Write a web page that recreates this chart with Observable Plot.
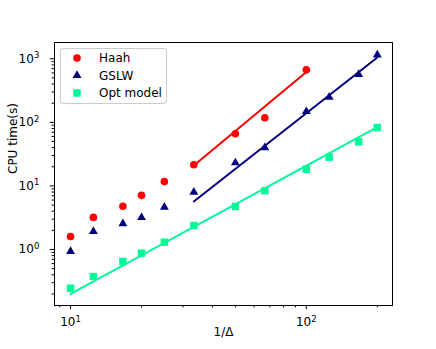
<!DOCTYPE html>
<html><head><meta charset="utf-8">
<script src="https://cdn.jsdelivr.net/npm/d3@7"></script>
<script src="https://cdn.jsdelivr.net/npm/@observablehq/plot@0.6"></script>
<style>body{margin:0;background:#fff}</style>
</head><body><div id="chart"></div>
<script>
// 1/Δ values
const invDelta = [10, 12.5, 16.67, 20, 25, 33.33, 50, 66.67, 100, 125, 166.67, 200];
// CPU times (s)
const haah = [1.6, 3.2, 4.8, 7.1, 11.7, 21.5, 66, 118, 669];
const gslw = [0.93, 1.92, 2.54, 3.18, 4.63, 7.97, 23.1, 40, 148, 249, 566, 1153];
const opt = [0.246, 0.376, 0.647, 0.875, 1.30, 2.38, 4.75, 8.4, 18.3, 28.3, 49.4, 83];
// fitted lines (end points)
const haahFitX = [33.33, 100], haahFitY = [21, 620];
const gslwFitX = [33.33, 200], gslwFitY = [5.7, 1050];
const optFitX = [10, 200], optFitY = [0.20, 84];
// ticks
const xMajor = [10, 100];
const xMinor = [9, 20, 30, 40, 50, 60, 70, 80, 90, 200];
const yMajor = [1, 10, 100, 1000];
const yMinor = [];
[0.1, 1, 10, 100, 1000].forEach(d => [2,3,4,5,6,7,8,9].forEach(k => yMinor.push(d * k)));
const seriesNames = ["Haah", "GSLW", "Opt model"];
const colors = ["#ff0000", "#000080", "#00fa9a"];

const expo = d => String(Math.round(Math.log10(d)));

const pts = (ys, name) => ys.map((v, i) => ({x: invDelta[i], y: v, s: name}));
const fit = (xs, ys, name) => xs.map((v, i) => ({x: v, y: ys[i], s: name}));

const chart = Plot.plot({
  width: 436, height: 349,
  marginLeft: 54, marginRight: 44, marginTop: 42, marginBottom: 44,
  style: {fontFamily: "DejaVu Sans", fontSize: "12px", color: "black", background: "white"},
  x: {type: "log", domain: [8.55, 232], label: null},
  y: {type: "log", domain: [0.1315, 1803], label: null},
  marks: [
    Plot.axisX({ticks: xMajor, tickSize: 4.2, tickPadding: 8, tickFormat: expo, label: null, fontSize: 12}),
    Plot.axisX({ticks: xMinor, tickSize: 2.4, tickFormat: () => "", label: null}),
    Plot.axisY({ticks: yMajor, tickSize: 4.2, tickPadding: 11, tickFormat: expo, label: null, fontSize: 12}),
    Plot.axisY({ticks: yMinor.filter(v => v > 0.1315 && v < 1803), tickSize: 2.4, tickFormat: () => "", label: null}),
    Plot.frame({stroke: "black", strokeWidth: 1}),
    Plot.line(fit(haahFitX, haahFitY, "Haah"), {x: "x", y: "y", stroke: colors[0], strokeWidth: 2}),
    Plot.line(fit(gslwFitX, gslwFitY, "GSLW"), {x: "x", y: "y", stroke: colors[1], strokeWidth: 2}),
    Plot.line(fit(optFitX, optFitY, "Opt"), {x: "x", y: "y", stroke: colors[2], strokeWidth: 2}),
    Plot.dot(pts(haah, "Haah"), {x: "x", y: "y", fill: colors[0], r: 3.8, symbol: "circle"}),
    Plot.dot(pts(gslw, "GSLW"), {x: "x", y: "y", fill: colors[1], r: 3.3, symbol: "triangle"}),
    Plot.dot(pts(opt, "Opt"), {x: "x", y: "y", fill: colors[2], r: 4.2, symbol: "square"}),
    Plot.text(["CPU time(s)"], {text: d => d, frameAnchor: "left", dx: -41.5, rotate: -90, fontSize: 12}),
    Plot.text(["1/\u0394"], {text: d => d, frameAnchor: "bottom", dy: 30.5, fontSize: 12})
  ]
});
document.getElementById("chart").appendChild(chart);

const svg = d3.select(chart);
// turn exponent tick labels into 10 with a raised superscript
svg.selectAll('g[aria-label$="tick label"] text').each(function() {
  const t = d3.select(this);
  const e = t.text();
  if (e === "") return;
  t.text("10");
  t.append("tspan").attr("font-size", "8.5px").attr("dy", "-0.55em").text(e);
});

// legend
const lg = svg.append("g").attr("text-anchor", "start");
lg.append("rect").attr("x", 60.5).attr("y", 48.5).attr("width", 106).attr("height", 55)
  .attr("rx", 2.5).attr("fill", "white").attr("fill-opacity", 0.8).attr("stroke", "#cccccc");
const syms = [d3.symbolCircle, d3.symbolTriangle, d3.symbolSquare];
const sizes = [Math.PI * 3.8 * 3.8, Math.PI * 3.3 * 3.3, Math.PI * 4.2 * 4.2];
seriesNames.forEach((name, i) => {
  const yy = 58 + i * 17.5;
  lg.append("path").attr("d", d3.symbol(syms[i], sizes[i])()).attr("transform", `translate(77,${yy})`).attr("fill", colors[i]);
  lg.append("text").attr("x", 99).attr("y", yy).attr("dy", "0.35em").attr("font-family", "DejaVu Sans")
    .attr("text-anchor", "start").attr("font-size", 12).attr("fill", "black").text(name);
});
</script>
</body></html>
